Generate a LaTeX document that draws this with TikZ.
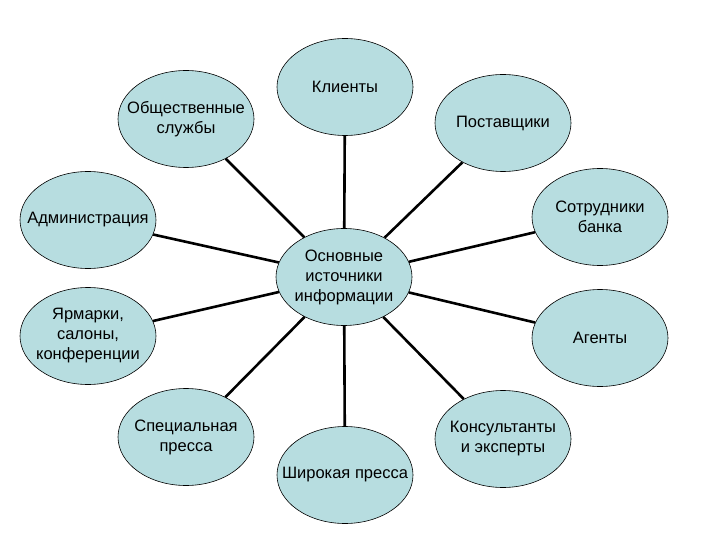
\documentclass[tikz,border=0pt]{standalone}
\usepackage{fontspec}
\setmainfont{Liberation Sans}
\usetikzlibrary{shapes}
\definecolor{srcfill}{RGB}{183,221,224}

\begin{document}
\begin{tikzpicture}[x=1pt,y=-1pt]
			\tikzset{source/.style = {shape=ellipse,draw,fill=srcfill,line width=0.6pt,
					minimum width=136pt, minimum height=97pt, inner sep = 0pt}}
			\tikzset{txt/.style = {align=center,inner sep=0pt,
					font=\fontsize{16.5}{20}\selectfont}}
			\tikzset{edge/.style = {line width=2.6pt, black}}
			\useasboundingbox (0,0) rectangle (720,540);
			
			% vertices
			\node[source, label={[txt]center:Основные\\источники\\информации}] (main) at (344,277) {};
			\node[source, label={[txt]center:Клиенты}] (client) at (345,87) {};
			\node[source, label={[txt]center:Общественные\\службы}] (public) at (186,119) {};
			\node[source, label={[txt]center:Поставщики}] (supplier) at (503,123) {};
			\node[source, label={[txt]center:Администрация}] (admin) at (88,220) {};
			\node[source, label={[txt]center:Сотрудники\\банка}] (staff) at (600,217) {};
			\node[source, label={[txt]center:Ярмарки,\\салоны,\\конференции}] (fair) at (88,336) {};
			\node[source, label={[txt]center:Агенты}] (agent) at (600,338) {};
			\node[source, label={[txt]center:Специальная\\пресса}] (special) at (186,437) {};
			\node[source, label={[txt]center:Широкая пресса}] (press) at (345,475) {};
			\node[source, label={[txt]center:Консультанты\\и эксперты}] (expert) at (503,439) {};
			
			%edges
			\foreach \n in {client,public,supplier,admin,staff,fair,agent,special,press,expert}
				\draw[edge] (main) to (\n);
			
\end{tikzpicture}
\end{document}
